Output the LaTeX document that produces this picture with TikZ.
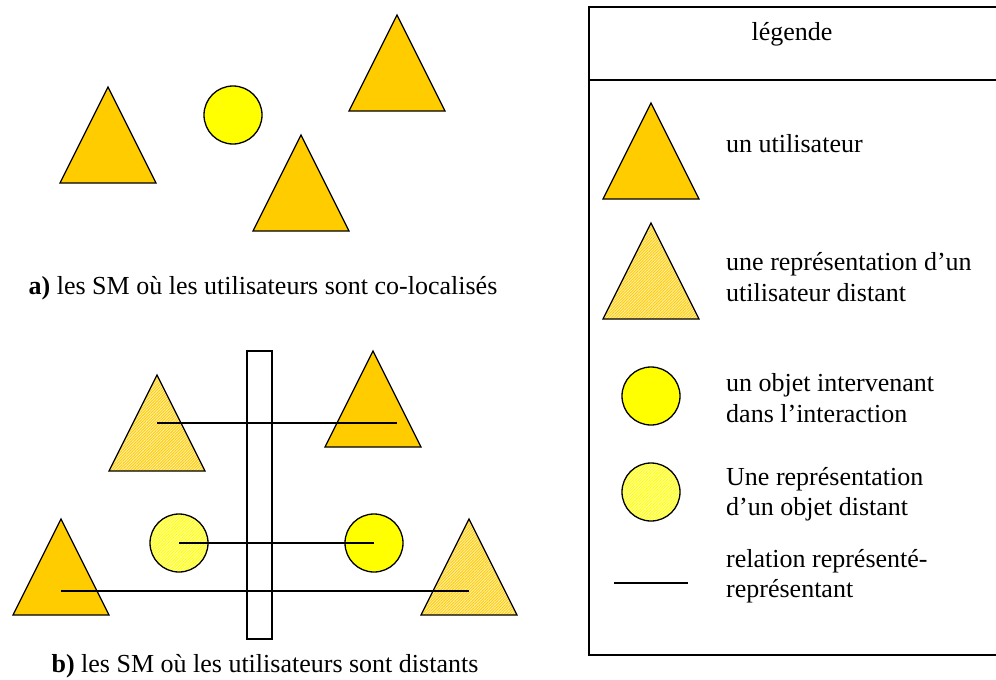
\documentclass[tikz,border=0pt]{standalone}
\usepackage{fontspec}
\setmainfont{Liberation Serif}
\usetikzlibrary{calc,patterns.meta}

\definecolor{gold}{RGB}{255,204,0}
\definecolor{jaune}{RGB}{255,255,0}

\tikzset{
  user/.style={draw,line width=1.3pt,fill=gold},
  userrep/.style={draw,line width=1.3pt,preaction={fill=gold!30},
    pattern={Lines[angle=45,distance=2pt,line width=0.9pt]},pattern color=gold},
  obj/.style={draw,circle,line width=1.3pt,fill=jaune,minimum size=58pt,inner sep=0pt},
  objrep/.style={draw,circle,line width=1.3pt,minimum size=58pt,inner sep=0pt,
    preaction={fill=jaune!30},
    pattern={Lines[angle=45,distance=2pt,line width=0.9pt]},pattern color=jaune},
  rel/.style={line width=1.2pt},
  legtext/.style={anchor=west,align=left,inner sep=0pt}
}

\newcommand{\usertri}[3]{\draw[#1] (#2) coordinate (#3) -- ++(48,96) -- ++(-96,0) -- cycle;}

\begin{document}
\begin{tikzpicture}[x=1pt,y=-1pt,font=\fontsize{26}{30.5}\selectfont]
  \useasboundingbox (0,0) rectangle (996,680);

  \usertri{user}{108,87}{ta1}
  \usertri{user}{397,15}{ta2}
  \usertri{user}{301,135}{ta3}
  \node[obj] (ca) at (233,115) {};
  \node (capa) at (263,288) {\textbf{a)} les SM où les utilisateurs sont co-localisés};

  \usertri{userrep}{157,375}{hb1}
  \usertri{user}{373,351}{fb1}
  \usertri{user}{61,519}{fb2}
  \usertri{userrep}{469,519}{hb2}
  \node[objrep] (cb1) at (179,543) {};
  \node[obj] (cb2) at (374,543) {};
  \draw[line width=1.3pt,fill=white] (247,351) rectangle (272,639);

  \draw[rel] ($(hb1)+(0,48)$) -- ($(fb1)+(24,72)$);
  \draw[rel] (cb1.center) -- (cb2.center);
  \draw[rel] ($(fb2)+(0,72)$) -- ($(hb2)+(0,72)$);
  \node (capb) at (265,666) {\textbf{b)} les SM où les utilisateurs sont distants};

  \draw[line width=1.3pt] (996,7) -- (589,7) -- (589,655) -- (996,655);
  \draw[line width=1.3pt] (589,80) -- (996,80);
  \node (leg) at (792,34) {légende};

  \usertri{user}{651,103}{l1}
  \usertri{userrep}{651,223}{l2}
  \node[obj] (l3) at (651,396) {};
  \node[objrep] (l4) at (651,492) {};
  \coordinate (l5a) at (614,583);
  \coordinate (l5b) at (688,583);
  \draw[rel] (l5a) -- (l5b);

  \node[legtext] (t1) at (726,144) {un utilisateur};
  \node[legtext] (t2) at (726,277) {une représentation d’un\\utilisateur distant};
  \node[legtext] (t3) at (726,398) {un objet intervenant\\dans l’interaction};
  \node[legtext] (t4) at (726,494) {Une représentation\\d’un objet  distant};
  \node[legtext] (t5) at (726,576) {relation représenté-\\représentant};
\end{tikzpicture}
\end{document}
